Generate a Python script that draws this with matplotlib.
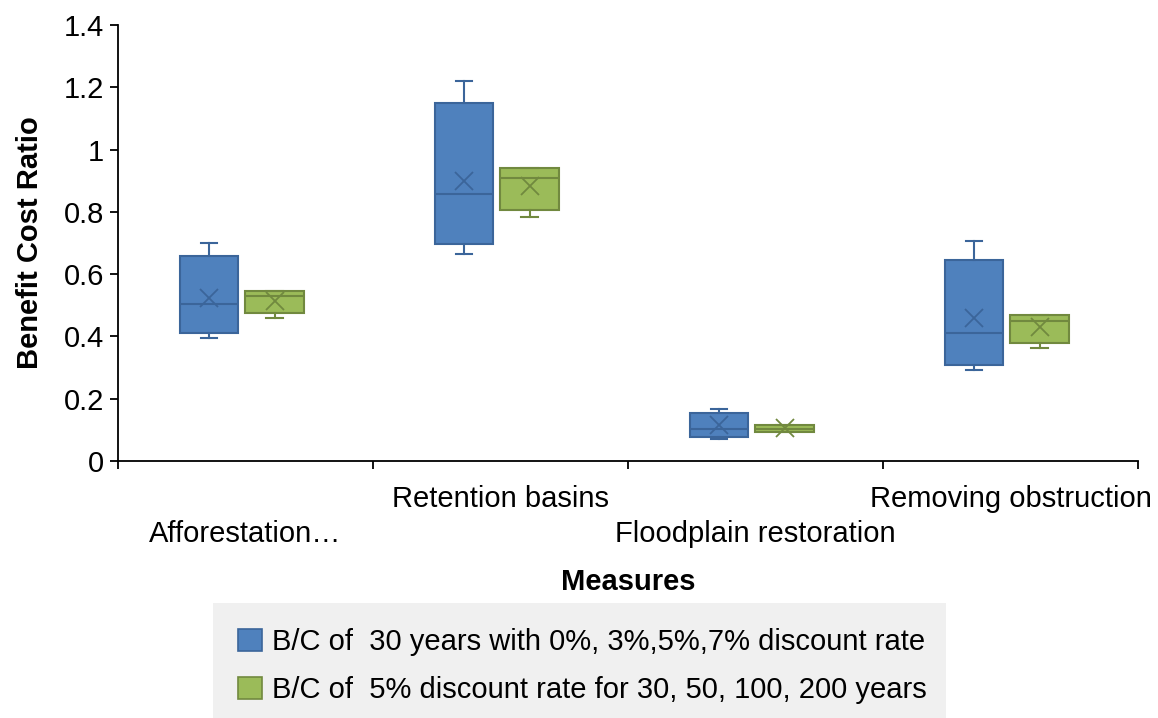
import matplotlib
matplotlib.use("Agg")
import matplotlib.pyplot as plt
from matplotlib.patches import Rectangle, Patch

plt.rcParams['font.family'] = ['Liberation Sans', 'DejaVu Sans']

categories = ["Afforestation…", "Retention basins", "Floodplain restoration", "Removing obstruction"]
series_names = ["B/C of  30 years with 0%, 3%,5%,7% discount rate",
                "B/C of  5% discount rate for 30, 50, 100, 200 years"]

# series 1 (blue)
s1_whislo = [0.395, 0.665, 0.072, 0.292]
s1_q1     = [0.411, 0.697, 0.077, 0.308]
s1_med    = [0.504, 0.857, 0.103, 0.411]
s1_q3     = [0.658, 1.150, 0.154, 0.645]
s1_whishi = [0.700, 1.220, 0.167, 0.706]
s1_mean   = [0.523, 0.899, 0.115, 0.459]

# series 2 (green)
s2_whislo = [0.460, 0.784, 0.093, 0.362]
s2_q1     = [0.474, 0.806, 0.093, 0.378]
s2_med    = [0.530, 0.909, 0.103, 0.451]
s2_q3     = [0.546, 0.941, 0.116, 0.469]
s2_whishi = [0.546, 0.941, 0.116, 0.469]
s2_mean   = [0.515, 0.883, 0.106, 0.431]

yticks = [0, 0.2, 0.4, 0.6, 0.8, 1, 1.2, 1.4]
ytick_labels = ["0", "0.2", "0.4", "0.6", "0.8", "1", "1.2", "1.4"]

fill_colors = ["#4f81bd", "#9bbb59"]
edge_colors = ["#3b659a", "#71893f"]

FS = 21

fig = plt.figure(figsize=(11.58, 7.18), dpi=100)
ax = fig.add_axes([0.1019, 0.358, 0.8808, 0.607])

def stats(wl, q1, med, q3, wh, mean):
    return [dict(whislo=a, q1=b, med=c, q3=d, whishi=e, mean=f, fliers=[])
            for a, b, c, d, e, f in zip(wl, q1, med, q3, wh, mean)]

series = [stats(s1_whislo, s1_q1, s1_med, s1_q3, s1_whishi, s1_mean),
          stats(s2_whislo, s2_q1, s2_med, s2_q3, s2_whishi, s2_mean)]
offsets = [-0.143, 0.114]
width = 0.23

for k, st in enumerate(series):
    pos = [i + 0.5 + offsets[k] for i in range(len(categories))]
    ec = edge_colors[k]
    ax.bxp(st, positions=pos, widths=width, patch_artist=True, showmeans=True,
           showfliers=False, capwidths=0.066,
           boxprops=dict(facecolor=fill_colors[k], edgecolor=ec, linewidth=1.5),
           medianprops=dict(color=ec, linewidth=1.5),
           whiskerprops=dict(color=ec, linewidth=1.5),
           capprops=dict(color=ec, linewidth=1.5),
           meanprops=dict(marker='x', markeredgecolor=ec, markersize=13, markeredgewidth=1.3))

ax.set_xlim(0, len(categories))
ax.set_ylim(0, 1.4)
ax.set_yticks(yticks)
ax.set_yticklabels(ytick_labels, fontsize=FS)
ax.set_xticks(range(len(categories) + 1))
ax.set_xticklabels([])
ax.tick_params(axis='x', direction='out', length=6, width=1.3)
ax.tick_params(axis='y', direction='out', length=6, width=1.3, pad=4)
for s in ['top', 'right']:
    ax.spines[s].set_visible(False)
for s in ['left', 'bottom']:
    ax.spines[s].set_linewidth(1.3)

trans = ax.get_xaxis_transform()
label_y = [-0.168, -0.088, -0.168, -0.088]
for i, (c, ly) in enumerate(zip(categories, label_y)):
    ax.text(i + 0.5, ly, c, transform=trans, ha='center', va='center', fontsize=FS)

ax.set_ylabel("Benefit Cost Ratio", fontsize=FS, fontweight='bold', labelpad=14)
fig.text(628 / 1158, 1 - 582 / 718, "Measures", ha='center', va='center',
         fontsize=FS, fontweight='bold')

fig.patches.append(Rectangle((213 / 1158, 0), 733 / 1158, 115 / 718,
                             transform=fig.transFigure, facecolor='#f0f0f0',
                             edgecolor='none', zorder=0))
handles = [Patch(facecolor=fill_colors[k], edgecolor=edge_colors[k], linewidth=1.2)
           for k in range(2)]
fig.legend(handles, series_names, loc='center left',
           bbox_to_anchor=(212 / 1158, 1 - 666 / 718), frameon=False, fontsize=FS,
           handlelength=0.8, handleheight=0.8, handletextpad=0.35, labelspacing=0.7)

fig.savefig("out.png", dpi=100)
